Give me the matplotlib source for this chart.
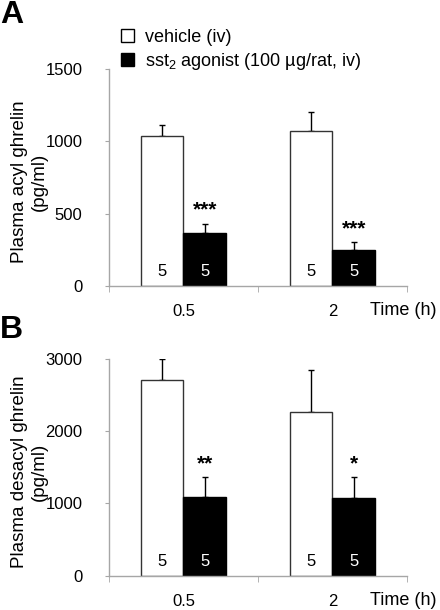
import numpy as np
import matplotlib
matplotlib.use("Agg")
import matplotlib.pyplot as plt
from matplotlib.patches import Patch

plt.rcParams["font.family"] = ["Liberation Sans", "DejaVu Sans"]
plt.rcParams["mathtext.fontset"] = "custom"
plt.rcParams["mathtext.rm"] = "Liberation Sans"
plt.rcParams["mathtext.default"] = "rm"
plt.rcParams["font.size"] = 12

times = ["0.5", "2"]
n_labels = ["5", "5"]

# panel A: acyl ghrelin (pg/ml)
acyl_vehicle = [1037, 1074]
acyl_vehicle_err = [74, 129]
acyl_agonist = [369, 249]
acyl_agonist_err = [60, 53]
acyl_stars = ["***", "***"]

# panel B: desacyl ghrelin (pg/ml)
desacyl_vehicle = [2710, 2267]
desacyl_vehicle_err = [286, 581]
desacyl_agonist = [1088, 1078]
desacyl_agonist_err = [276, 282]
desacyl_stars = ["**", "*"]

fig = plt.figure(figsize=(4.4, 6.1), dpi=100)
spine_col = "#a6a6a6"


def panel(rect, veh, veh_err, ago, ago_err, stars, ymax, yticks, ylabel):
    ax = fig.add_axes(rect)
    x = np.arange(len(times)) + 0.5
    w = 0.285
    ax.bar(x - w / 2, veh, w, color="white", edgecolor="#333333", lw=1.0, zorder=2)
    ax.bar(x + w / 2, ago, w, color="black", edgecolor="black", lw=1.0, zorder=2)
    ax.errorbar(x - w / 2, veh, yerr=[np.zeros(len(veh)), veh_err], fmt="none",
                ecolor="black", elinewidth=1.0, capsize=2.5, capthick=1.0, zorder=1)
    ax.errorbar(x + w / 2, ago, yerr=[np.zeros(len(ago)), ago_err], fmt="none",
                ecolor="black", elinewidth=1.0, capsize=2.5, capthick=1.0, zorder=1)
    for i in range(len(times)):
        ax.annotate(stars[i], (x[i] + w / 2, ago[i] + ago_err[i]), xytext=(0, 3),
                    textcoords="offset points", ha="center", va="bottom",
                    fontsize=15, fontweight="bold")
        ax.text(x[i] - w / 2, ymax * 0.066, n_labels[i], ha="center", va="center",
                color="black", fontsize=12)
        ax.text(x[i] + w / 2, ymax * 0.066, n_labels[i], ha="center", va="center",
                color="white", fontsize=12)
    ax.set_xlim(0, len(times))
    ax.set_ylim(0, ymax)
    ax.set_yticks(yticks)
    ax.tick_params(axis="y", length=3, color=spine_col, pad=16, labelsize=12)
    ax.set_xticks(x)
    ax.set_xticklabels(times)
    ax.tick_params(axis="x", which="major", length=0, pad=13, labelsize=12)
    ax.set_xticks([0, 1, 2], minor=True)
    ax.tick_params(axis="x", which="minor", length=4, color=spine_col)
    for s in ["top", "right"]:
        ax.spines[s].set_visible(False)
    for s in ["left", "bottom"]:
        ax.spines[s].set_color(spine_col)
        ax.spines[s].set_linewidth(1.0)
    ax.set_ylabel(ylabel, fontsize=13.5, linespacing=1.25)
    ax.yaxis.set_label_coords(-0.205, 0.48)
    ax.text(1.1, -0.115, "Time (h)", transform=ax.transAxes, ha="right", va="center",
            fontsize=13)
    return ax


axA = panel([0.2477, 0.5311, 0.6773, 0.3557], acyl_vehicle, acyl_vehicle_err,
            acyl_agonist, acyl_agonist_err, acyl_stars, 1500, [0, 500, 1000, 1500],
            "Plasma acyl ghrelin\n(pg/ml)")
axB = panel([0.2477, 0.0562, 0.6773, 0.3557], desacyl_vehicle, desacyl_vehicle_err,
            desacyl_agonist, desacyl_agonist_err, desacyl_stars, 3000,
            [0, 1000, 2000, 3000], "Plasma desacyl ghrelin\n(pg/ml)")

handles = [Patch(facecolor="white", edgecolor="black", lw=1.0),
           Patch(facecolor="black", edgecolor="black", lw=1.0)]
fig.legend(handles, ["vehicle (iv)", r"sst$_2$ agonist (100 µg/rat, iv)"],
           loc="upper left", bbox_to_anchor=(0.254, 0.967), frameon=False,
           borderpad=0, handlelength=0.75, handleheight=0.75, handletextpad=0.6,
           labelspacing=0.25, fontsize=13)

fig.text(0.0, 1 - 15 / 610, "A", fontsize=23, fontweight="bold", va="center")
fig.text(0.0, 1 - 330 / 610, "B", fontsize=23, fontweight="bold", va="center")

fig.savefig("out.png", dpi=100)
